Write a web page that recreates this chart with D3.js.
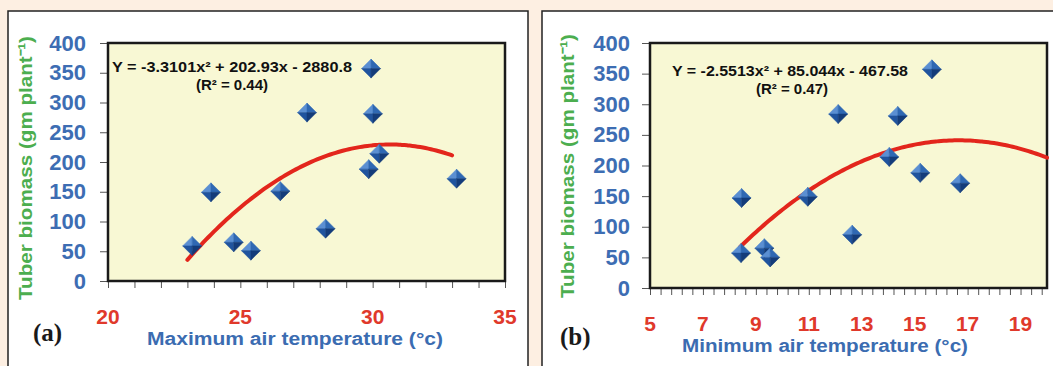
<!DOCTYPE html>
<html>
<head>
<meta charset="utf-8">
<script src="https://cdn.jsdelivr.net/npm/d3@7"></script>
<style>
  body { margin: 0; background: #fdefe2; }
  svg { display: block; font-family: "Liberation Sans", Arial, sans-serif; }
</style>
</head>
<body>
<script>
// values
const yTicks = [0, 50, 100, 150, 200, 250, 300, 350, 400];

const maxTempTicks = [20, 25, 30, 35];
const maxTemp = [23.18, 23.89, 24.75, 25.4, 26.51, 27.52, 28.22, 29.94, 30.01, 30.25, 29.85, 33.17];
const biomassA = [59, 149, 65, 51, 151, 283, 88, 357, 281, 214, 188, 172];
const fitA = [-3.3101, 202.93, -2880.8]; // a, b, c of the trendline
const fitRangeA = [23, 33];

const minTempTicks = [5, 7, 9, 11, 13, 15, 17, 19];
const minTemp = [8.46, 8.44, 9.32, 9.54, 10.96, 12.11, 12.64, 14.04, 14.36, 15.21, 15.65, 16.72];
const biomassB = [147, 57, 65, 50, 149, 284, 87, 214, 281, 188, 357, 171];
const fitB = [-2.5513, 85.044, -467.58];
const fitRangeB = [8.4, 20];

const width = 1053, height = 366;
const svg = d3.select("body").append("svg").attr("width", width).attr("height", height);

function drawPanel(p) {
  // white panel with black frame
  svg.append("rect")
    .attr("x", p.box[0]).attr("y", p.box[1])
    .attr("width", p.box[2]).attr("height", p.box[3])
    .attr("fill", "#fff").attr("stroke", "#222").attr("stroke-width", 1.5);

  const x = d3.scaleLinear().domain(p.xDomain).range([p.left, p.right]);
  const y = d3.scaleLinear().domain([0, 400]).range([p.bottom, p.top]);

  const g = svg.append("g");

  g.append("rect")
    .attr("x", p.left).attr("y", p.top)
    .attr("width", p.right - p.left).attr("height", p.bottom - p.top)
    .attr("fill", "#f8f8d4");

  // y axis ticks + labels
  g.append("g")
    .attr("transform", `translate(${p.left},0)`)
    .call(d3.axisLeft(y).tickValues(yTicks).tickSize(8).tickPadding(p.yPad).tickFormat(d3.format("d")))
    .call(a => a.select(".domain").remove())
    .call(a => a.selectAll("line").attr("stroke", "#555"))
    .call(a => a.selectAll("text")
      .attr("fill", "#3d6db3").attr("font-size", 22).attr("font-weight", "bold")
      .attr("font-family", "Liberation Sans, Arial, sans-serif"));

  // x axis minor ticks
  g.append("g")
    .attr("transform", `translate(0,${p.bottom})`)
    .call(d3.axisBottom(x).tickValues(p.minor).tickSize(7).tickFormat(""))
    .call(a => a.select(".domain").remove())
    .call(a => a.selectAll("line").attr("stroke", "#555"));

  // x tick labels (red)
  g.selectAll(".xlab")
    .data(p.xTicks)
    .join("text")
    .attr("x", d => x(d))
    .attr("y", p.bottom + 43)
    .attr("text-anchor", "middle")
    .attr("fill", "#e0392b")
    .attr("font-size", 21)
    .attr("font-weight", "bold")
    .text(d => d);

  // plot frame
  g.append("rect")
    .attr("x", p.left).attr("y", p.top)
    .attr("width", p.right - p.left).attr("height", p.bottom - p.top)
    .attr("fill", "none").attr("stroke", "#1a1a1a").attr("stroke-width", 2.5);

  // trendline from the printed equation
  const [a, b, c] = p.fit;
  const xs = d3.range(p.fitRange[0], p.fitRange[1] + 0.001, 0.1);
  g.append("path")
    .datum(xs)
    .attr("d", d3.line().x(d => x(d)).y(d => y(a * d * d + b * d + c)).curve(d3.curveBasis))
    .attr("fill", "none")
    .attr("stroke", "#e3261c")
    .attr("stroke-width", 4)
    .attr("stroke-linecap", "round");

  // diamond markers with four shaded facets
  const s = 9.5;
  const facets = [
    { pts: [[0, -s], [-s, 0], [0, 0]], fill: "#5b8fd2" },
    { pts: [[0, -s], [s, 0], [0, 0]], fill: "#2f68b3" },
    { pts: [[-s, 0], [0, s], [0, 0]], fill: "#20549e" },
    { pts: [[s, 0], [0, s], [0, 0]], fill: "#143c7a" }
  ];
  const pts = p.xs.map((v, i) => ({ x: v, y: p.ys[i] }));
  const m = g.selectAll(".mk")
    .data(pts)
    .join("g")
    .attr("transform", d => `translate(${x(d.x)},${y(d.y)})`);
  facets.forEach(f => {
    m.append("path")
      .attr("d", "M" + f.pts.map(q => q.join(",")).join("L") + "Z")
      .attr("fill", f.fill)
      .attr("stroke", f.fill)
      .attr("stroke-width", 0.5);
  });

  // equation text
  g.append("text")
    .attr("x", p.eq[0]).attr("y", p.eq[1])
    .attr("font-size", 15).attr("font-weight", "bold").attr("fill", "#111")
    .attr("textLength", p.eqLen)
    .attr("lengthAdjust", "spacingAndGlyphs")
    .text(p.eqText);
  g.append("text")
    .attr("x", p.r2[0]).attr("y", p.r2[1])
    .attr("text-anchor", "middle")
    .attr("font-size", 15).attr("font-weight", "bold").attr("fill", "#111")
    .text(p.r2Text);

  // axis titles
  g.append("text")
    .attr("x", p.xTitle[0]).attr("y", p.xTitle[1])
    .attr("text-anchor", "middle")
    .attr("fill", "#3b6cb1")
    .attr("font-size", 18)
    .attr("font-weight", "bold")
    .attr("textLength", p.xTitleLen)
    .attr("lengthAdjust", "spacingAndGlyphs")
    .text(p.xTitleText);

  g.append("text")
    .attr("transform", `translate(${p.yTitle[0]},${p.yTitle[1]}) rotate(-90)`)
    .attr("text-anchor", "middle")
    .attr("fill", "#4cae4f")
    .attr("font-size", 19)
    .attr("font-weight", "bold")
    .attr("textLength", 264)
    .attr("lengthAdjust", "spacingAndGlyphs")
    .text("Tuber biomass (gm plant\u207B\u00B9)");

  g.append("text")
    .attr("x", p.tag[0]).attr("y", p.tag[1])
    .attr("font-family", "Liberation Serif, serif")
    .attr("font-size", 25)
    .attr("font-weight", "bold")
    .attr("fill", "#1a1a1a")
    .text(p.tagText);
}

drawPanel({
  box: [8, 11, 520, 370],
  left: 108, right: 505, top: 43, bottom: 281,
  xDomain: [20, 35],
  xTicks: maxTempTicks,
  minor: d3.range(20, 35.01, 1),
  yPad: 14,
  xs: maxTemp, ys: biomassA,
  fit: fitA, fitRange: fitRangeA,
  eq: [112, 72], eqLen: 240, eqText: "Y = -3.3101x\u00B2 + 202.93x - 2880.8",
  r2: [232, 90], r2Text: "(R\u00B2 = 0.44)",
  xTitle: [295, 345], xTitleLen: 296, xTitleText: "Maximum air temperature (\u00B0c)",
  yTitle: [32, 168],
  tag: [33, 341], tagText: "(a)"
});

drawPanel({
  box: [542, 11, 530, 370],
  left: 650, right: 1047, top: 43, bottom: 288,
  xDomain: [5, 20],
  xTicks: minTempTicks,
  minor: d3.range(5, 20.01, 0.4),
  yPad: 12,
  xs: minTemp, ys: biomassB,
  fit: fitB, fitRange: fitRangeB,
  eq: [672, 76], eqLen: 236, eqText: "Y = -2.5513x\u00B2 + 85.044x - 467.58",
  r2: [792, 94], r2Text: "(R\u00B2 = 0.47)",
  xTitle: [825, 352], xTitleLen: 286, xTitleText: "Minimum air temperature (\u00B0c)",
  yTitle: [574, 166],
  tag: [560, 345], tagText: "(b)"
});
</script>
</body>
</html>
